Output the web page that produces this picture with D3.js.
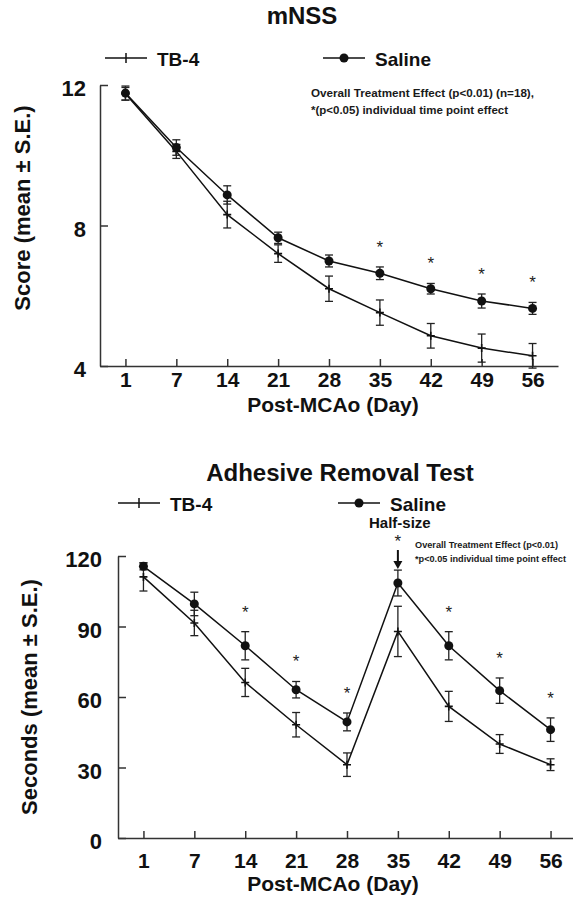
<!DOCTYPE html>
<html>
<head>
<meta charset="utf-8">
<script src="https://cdn.jsdelivr.net/npm/d3@7"></script>
<style>
  body { margin: 0; background: #fff; }
  svg { font-family: Arial, "Liberation Sans", sans-serif; }
  .axis path, .axis line { stroke: #333; stroke-width: 1.5; }
  .axis text { font-size: 22px; font-weight: bold; fill: #111; }
</style>
</head>
<body>
<svg id="chart" width="573" height="910"></svg>
<script>
// time points (days after MCAo)
const days = [1, 7, 14, 21, 28, 35, 42, 49, 56];

// mNSS panel
const mnssTB4 = [11.75, 10.11, 8.31, 7.2, 6.2, 5.52, 4.86, 4.51, 4.29];
const mnssTB4Err = [0.18, 0.2, 0.38, 0.25, 0.36, 0.36, 0.35, 0.4, 0.35];
const mnssSaline = [11.77, 10.22, 8.87, 7.65, 6.99, 6.64, 6.2, 5.85, 5.64];
const mnssSalineErr = [0.2, 0.22, 0.26, 0.16, 0.17, 0.18, 0.15, 0.2, 0.17];
const mnssStarDays = [35, 42, 49, 56];
const mnssTicks = [4, 8, 12];

// adhesive removal panel
const adhTB4 = [111.1, 91.5, 66.2, 48.2, 31.2, 87.9, 56.0, 40.0, 31.2];
const adhTB4Err = [6, 5.4, 6, 5.2, 5, 10.7, 6.4, 4, 2.5];
const adhSaline = [115.6, 99.6, 81.8, 63.1, 49.4, 108.5, 81.8, 62.7, 46.1];
const adhSalineErr = [1.5, 5, 6, 3.5, 3.8, 5.5, 6, 5.4, 5];
const adhStarDays = [14, 21, 28, 42, 49, 56];
const adhTicks = [0, 30, 60, 90, 120];

const svg = d3.select("#chart");

function drawPanel(p) {
  let g = svg.append("g");

  let x = d3.scalePoint().domain(days).range([p.left, p.right]).padding(0.5);
  let y = d3.scaleLinear().domain(p.yDomain).range([p.bottom, p.top]);

  // axes, ticks pointing inward
  g.append("g")
    .attr("class", "axis")
    .attr("transform", `translate(${p.left},0)`)
    .call(d3.axisLeft(y).tickValues(p.ticks).tickSize(-8).tickSizeOuter(0).tickPadding(p.yPad))
    .selectAll("text").attr("dy", "0.48em");

  g.append("g")
    .attr("class", "axis")
    .attr("transform", `translate(0,${p.bottom})`)
    .call(d3.axisBottom(x).tickSize(-7).tickSizeOuter(0).tickPadding(p.xPad))
    .selectAll("text").style("font-size", "21px");

  // titles
  g.append("text")
    .attr("x", p.titleX).attr("y", p.titleY)
    .attr("text-anchor", "middle")
    .style("font-size", "24px").style("font-weight", "bold").style("fill", "#111")
    .text(p.title);

  g.append("text")
    .attr("transform", `translate(${p.yLabelX},${p.yLabelY}) rotate(-90)`)
    .attr("text-anchor", "middle")
    .style("font-size", "22px").style("font-weight", "bold").style("fill", "#111")
    .text(p.yLabel);

  g.append("text")
    .attr("x", 333).attr("y", p.xLabelY)
    .attr("text-anchor", "middle")
    .style("font-size", "21px").style("font-weight", "bold").style("fill", "#111")
    .text("Post-MCAo (Day)");

  // legend
  let legend = [
    {name: "TB-4", x: p.legTB4, type: "cross"},
    {name: "Saline", x: p.legSaline, type: "dot"}
  ];
  let lg = g.selectAll(".leg").data(legend).enter().append("g")
    .attr("transform", d => `translate(${d.x},${p.legY})`);
  lg.append("line").attr("x1", 0).attr("x2", 42).attr("stroke", "#111").attr("stroke-width", 1.5);
  lg.filter(d => d.type == "dot").append("circle").attr("cx", 21).attr("r", 4.5).attr("fill", "#111");
  lg.filter(d => d.type == "cross").append("path").attr("d", "M21,-5V5").attr("stroke", "#111").attr("stroke-width", 1.5);
  lg.append("text").attr("x", 52).attr("y", 8)
    .style("font-size", "19px").style("font-weight", "bold").style("fill", "#111")
    .text(d => d.name);

  // note
  g.selectAll(".note").data(p.note).enter().append("text")
    .attr("x", p.noteX).attr("y", (d, i) => p.noteY + i * p.noteGap)
    .attr("textLength", d => d.len).attr("lengthAdjust", "spacingAndGlyphs")
    .style("font-size", p.noteSize + "px").style("font-weight", "bold").style("fill", "#1a1a1a")
    .text(d => d.text);

  // series
  let series = [
    {vals: p.tb4, errs: p.tb4Err, type: "cross"},
    {vals: p.saline, errs: p.salineErr, type: "dot"}
  ];
  let line = d3.line().x((d, i) => x(days[i])).y(d => y(d));

  series.forEach(s => {
    let pts = days.map((d, i) => ({day: d, v: s.vals[i], e: s.errs[i]}));

    let eb = g.append("g").selectAll("g").data(pts).enter().append("g")
      .attr("stroke", "#222").attr("stroke-width", 1.3);
    eb.append("line")
      .attr("x1", d => x(d.day)).attr("x2", d => x(d.day))
      .attr("y1", d => y(d.v - d.e)).attr("y2", d => y(d.v + d.e));
    eb.append("line")
      .attr("x1", d => x(d.day) - 4).attr("x2", d => x(d.day) + 4)
      .attr("y1", d => y(d.v + d.e)).attr("y2", d => y(d.v + d.e));
    eb.append("line")
      .attr("x1", d => x(d.day) - 4).attr("x2", d => x(d.day) + 4)
      .attr("y1", d => y(d.v - d.e)).attr("y2", d => y(d.v - d.e));

    g.append("path").datum(s.vals)
      .attr("d", line).attr("fill", "none")
      .attr("stroke", "#111").attr("stroke-width", 1.5);

    if (s.type == "dot") {
      g.append("g").selectAll("circle").data(pts).enter().append("circle")
        .attr("cx", d => x(d.day)).attr("cy", d => y(d.v))
        .attr("r", 4.5).attr("fill", "#111");
    } else {
      g.append("g").selectAll("path").data(pts).enter().append("path")
        .attr("d", d => `M${x(d.day) - 4},${y(d.v)}H${x(d.day) + 4}M${x(d.day)},${y(d.v) - 4}V${y(d.v) + 4}`)
        .attr("stroke", "#111").attr("stroke-width", 1.6);
    }
  });

  // significance stars above saline error bar
  g.selectAll(".star").data(p.stars).enter().append("text")
    .attr("x", d => x(d))
    .attr("y", d => { let i = days.indexOf(d); return y(p.saline[i] + p.salineErr[i]) - 14; })
    .attr("text-anchor", "middle")
    .style("font-size", "17px").style("fill", "#222")
    .text("*");

  return {x, y};
}

drawPanel({
  title: "mNSS", titleX: 302, titleY: 24,
  left: 100, right: 558, top: 85, bottom: 366,
  yDomain: [4, 12], ticks: mnssTicks, yPad: 14, xPad: 6,
  yLabel: "Score (mean ± S.E.)", yLabelX: 30, yLabelY: 208,
  xLabelY: 412,
  legTB4: 105, legSaline: 323, legY: 58,
  note: [
    {text: "Overall Treatment Effect  (p<0.01) (n=18),", len: 223},
    {text: "*(p<0.05) individual time point effect", len: 197}
  ],
  noteX: 311, noteY: 97, noteGap: 17, noteSize: 10.5,
  tb4: mnssTB4, tb4Err: mnssTB4Err, saline: mnssSaline, salineErr: mnssSalineErr,
  stars: mnssStarDays
});

let adh = drawPanel({
  title: "Adhesive Removal Test", titleX: 340, titleY: 481,
  left: 118, right: 576, top: 556, bottom: 838,
  yDomain: [0, 120], ticks: adhTicks, yPad: 16, xPad: 15,
  yLabel: "Seconds (mean ± S.E.)", yLabelX: 37, yLabelY: 697,
  xLabelY: 891,
  legTB4: 118, legSaline: 338, legY: 503,
  note: [
    {text: "Overall Treatment Effect (p<0.01)", len: 143},
    {text: "*p<0.05 individual time point effect", len: 151}
  ],
  noteX: 415, noteY: 548, noteGap: 14, noteSize: 9,
  tb4: adhTB4, tb4Err: adhTB4Err, saline: adhSaline, salineErr: adhSalineErr,
  stars: adhStarDays
});

// half-size marker at day 35
let i35 = days.indexOf(35);
let cx = adh.x(35), cy = adh.y(adhSaline[i35]);
svg.append("text").attr("x", cx + 2).attr("y", cy - 55)
  .attr("text-anchor", "middle")
  .style("font-size", "15px").style("font-weight", "bold").style("fill", "#111")
  .text("Half-size");
svg.append("text").attr("x", cx).attr("y", cy - 36)
  .attr("text-anchor", "middle")
  .style("font-size", "17px").style("fill", "#222")
  .text("*");
svg.append("path")
  .attr("d", `M${cx},${cy - 33}V${cy - 17}`)
  .attr("stroke", "#111").attr("stroke-width", 2);
svg.append("path")
  .attr("d", `M${cx - 4.5},${cy - 22}L${cx},${cy - 14}L${cx + 4.5},${cy - 22}Z`)
  .attr("fill", "#111");
</script>
</body>
</html>
